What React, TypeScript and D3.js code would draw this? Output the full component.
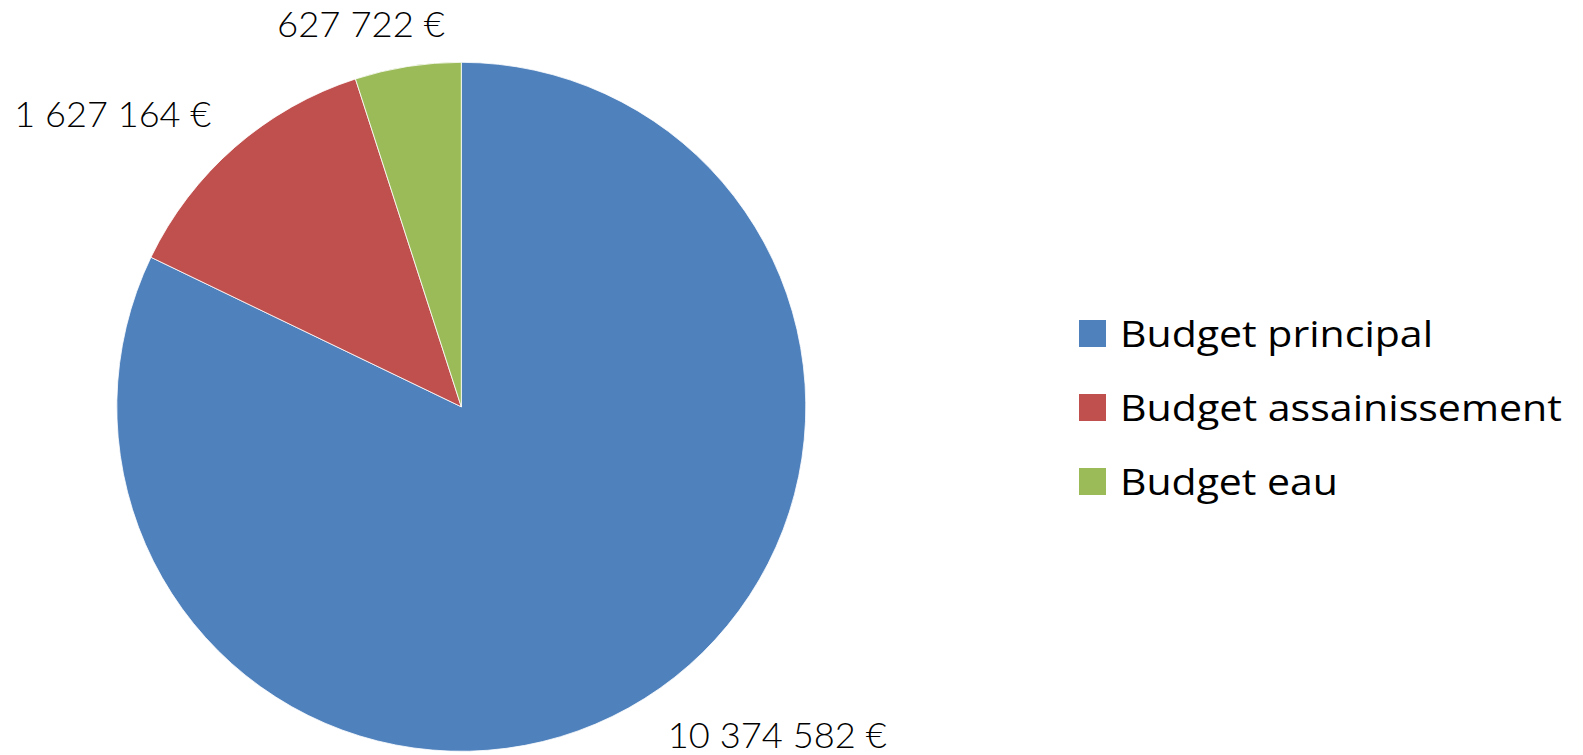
import React from "react";
import * as d3 from "d3";

const categories = ["Budget principal", "Budget assainissement", "Budget eau"];
const values = [10374582, 1627164, 627722];
const labels = ["10 374 582 €", "1 627 164 €", "627 722 €"];
const colors = ["#4F81BD", "#C0504D", "#9BBB59"];

const W = 1583;
const H = 755;
const cx = 461.3;
const cy = 406.8;
const R = 344.5;
const labelR = 388;
const labelNudge = [
  { dx: 0, dy: 0 },
  { dx: 5, dy: 0 },
  { dx: -40, dy: 0 },
];
const labelWidths = [219, 197, 168];
const legendWidths = [313, 442, 218];

export default function App() {
  const pie = d3.pie<number>().sort(null).value((d) => d);
  const arcs = pie(values);
  const arc = d3.arc<d3.PieArcDatum<number>>().innerRadius(0).outerRadius(R);

  const legendY = d3.scaleBand<number>().domain(d3.range(categories.length)).range([320, 542]).paddingInner(0);

  return (
    <svg
      width={W}
      height={H}
      style={{ position: "absolute", left: 0, top: 0, background: "#fff" }}
    >
      <g transform={`translate(${cx},${cy})`}>
        {arcs.map((a, i) => (
          <path key={i} d={arc(a) || ""} fill={colors[i]} stroke="#ffffff" strokeWidth={0.8} />
        ))}
        {arcs.map((a, i) => {
          const mid = (a.startAngle + a.endAngle) / 2;
          const s = Math.sin(mid);
          const c = -Math.cos(mid);
          const x = labelR * s + labelNudge[i].dx;
          const y = labelR * c + labelNudge[i].dy;
          const anchor = s > 0.2 ? "start" : s < -0.2 ? "end" : "middle";
          return (
            <text
              key={i}
              x={x}
              y={y + 13}
              textAnchor={anchor}
              fontFamily="Lato, 'Open Sans', sans-serif"
              fontWeight={300}
              fontSize={36}
              fill="#000"
              textLength={labelWidths[i]}
              lengthAdjust="spacingAndGlyphs"
            >
              {labels[i]}
            </text>
          );
        })}
      </g>
      <g>
        {categories.map((cat, i) => {
          const y0 = legendY(i)!;
          return (
            <g key={cat}>
              <rect x={1079} y={y0} width={27} height={27} fill={colors[i]} />
              <text
                x={1120}
                y={y0 + 27}
                fontFamily="'Open Sans', 'Noto Sans', sans-serif"
                fontSize={37}
                fill="#000"
                textLength={legendWidths[i]}
                lengthAdjust="spacingAndGlyphs"
              >
                {cat}
              </text>
            </g>
          );
        })}
      </g>
    </svg>
  );
}
